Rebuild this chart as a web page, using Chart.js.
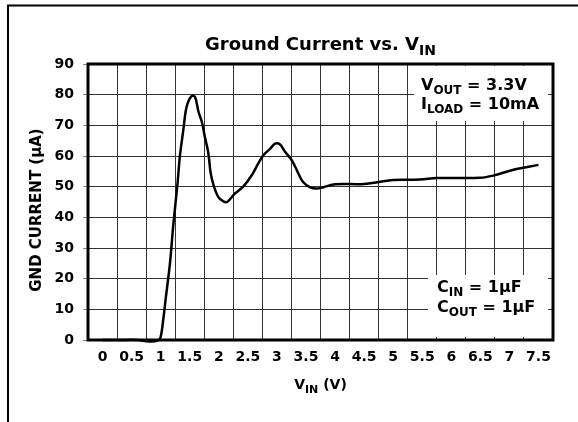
<!DOCTYPE html>
<html>
<head>
<meta charset="utf-8">
<script src="https://cdn.jsdelivr.net/npm/chart.js@4.4.1/dist/chart.umd.min.js"></script>
<style>
  html, body { margin: 0; padding: 0; background: #fff; }
  #wrap { width: 578px; height: 422px; position: relative; }
</style>
</head>
<body>
<div id="wrap"><canvas id="gndChart"></canvas></div>
<script>
// V_IN sweep (V) and ground current (uA)
const vinVolts = [0, 0.3, 0.6, 0.8, 0.95, 1.0, 1.05, 1.09, 1.16, 1.22, 1.29, 1.33, 1.39, 1.43, 1.47,
  1.53, 1.59, 1.65, 1.71, 1.76, 1.82, 1.86, 1.91, 1.99, 2.08, 2.15, 2.28, 2.42, 2.57, 2.68,
  2.77, 2.88, 2.97, 3.05, 3.14, 3.26, 3.37, 3.45, 3.57, 3.68, 3.8, 4.0, 4.5, 5.0, 5.46,
  5.75, 6.5, 6.72, 7.07, 7.5];
const gndCurrent = [0, 0, 0, -0.5, -0.2, 1, 7.5, 14, 25, 38, 51, 59.8, 68.5, 74.5, 77.5,
  79.5, 79.3, 74.5, 71, 66.3, 61, 54.5, 50.5, 46.7, 45.2, 45.1, 47.8, 50, 53.8, 57.6,
  60.3, 62.3, 64, 63.8, 61.4, 58.5, 54.3, 51.5, 49.8, 49.4, 49.8, 50.8, 50.9, 52.2, 52.3,
  52.8, 52.9, 53.6, 55.5, 57.1];
const xTickValues = [0, 0.5, 1, 1.5, 2, 2.5, 3, 3.5, 4, 4.5, 5, 5.5, 6, 6.5, 7, 7.5];
const yTickValues = [0, 10, 20, 30, 40, 50, 60, 70, 80, 90];

const FONT = '"DejaVu Sans", "Liberation Sans", sans-serif';

// draws text pieces, [text, isSubscript]
function drawRich(ctx, parts, x, y, size, align) {
  const subSize = Math.round(size * 0.75);
  let w = 0;
  parts.forEach(function (p) {
    ctx.font = 'bold ' + (p[1] ? subSize : size) + 'px ' + FONT;
    w += ctx.measureText(p[0]).width;
  });
  let cx = align === 'center' ? x - w / 2 : x;
  ctx.textAlign = 'left';
  ctx.textBaseline = 'alphabetic';
  parts.forEach(function (p) {
    ctx.font = 'bold ' + (p[1] ? subSize : size) + 'px ' + FONT;
    ctx.fillText(p[0], cx, p[1] ? y + size * 0.26 : y);
    cx += ctx.measureText(p[0]).width;
  });
}

const decor = {
  id: 'decor',
  afterDraw: function (chart) {
    const ctx = chart.ctx;
    const a = chart.chartArea;
    ctx.save();

    // outer frame (top and left only)
    ctx.strokeStyle = '#000';
    ctx.lineWidth = 2;
    ctx.beginPath();
    ctx.moveTo(8, 422);
    ctx.lineTo(8, 5.5);
    ctx.lineTo(578, 5.5);
    ctx.stroke();

    // condition boxes
    ctx.fillStyle = '#fff';
    ctx.fillRect(a.right - 139, a.top + 2, 134, 55);
    ctx.fillRect(a.right - 125, a.bottom - 65, 120, 62);

    ctx.fillStyle = '#000';
    drawRich(ctx, [['V', false], ['OUT', true], [' = 3.3V', false]], a.right - 132, a.top + 26, 16, 'left');
    drawRich(ctx, [['I', false], ['LOAD', true], [' = 10mA', false]], a.right - 132, a.top + 45, 16, 'left');
    drawRich(ctx, [['C', false], ['IN', true], [' = 1\u00b5F', false]], a.right - 116, a.bottom - 48, 16, 'left');
    drawRich(ctx, [['C', false], ['OUT', true], [' = 1\u00b5F', false]], a.right - 116, a.bottom - 28, 16, 'left');

    // title
    const cx = (a.left + a.right) / 2;
    drawRich(ctx, [['Ground Current vs. V', false], ['IN', true]], cx, 50, 18, 'center');

    // x axis title
    drawRich(ctx, [['V', false], ['IN', true], [' (V)', false]], cx, 389, 14, 'center');

    // y axis title
    ctx.save();
    ctx.translate(41, (a.top + a.bottom) / 2 + 8);
    ctx.rotate(-Math.PI / 2);
    drawRich(ctx, [['GND CURRENT (\u00b5A)', false]], 0, 0, 15, 'center');
    ctx.restore();

    // plot border
    ctx.lineWidth = 3;
    ctx.strokeStyle = '#000';
    ctx.strokeRect(a.left, a.top, a.right - a.left, a.bottom - a.top);
    ctx.restore();
  }
};

function isLabelTick(v) {
  return xTickValues.some(function (t) { return Math.abs(t - v) < 1e-6; });
}

const points = vinVolts.map(function (v, i) {
  return { x: v, y: gndCurrent[i] };
});

const chart = new Chart(document.getElementById('gndChart'), {
  type: 'line',
  data: {
    datasets: [{
      label: 'GND current',
      data: points,
      borderColor: '#000',
      borderWidth: 2.5,
      pointRadius: 0,
      tension: 0.35,
      clip: false
    }]
  },
  options: {
    responsive: true,
    maintainAspectRatio: false,
    animation: false,
    layout: { padding: { top: 64, right: 25, bottom: 0, left: 0 } },
    plugins: {
      legend: { display: false },
      tooltip: { enabled: false }
    },
    scales: {
      x: {
        type: 'linear',
        min: -0.25,
        max: 7.75,
        afterFit: function (scale) { scale.height = 82; },
        border: { display: false },
        grid: {
          drawTicks: false,
          color: function (c) {
            return c.tick && !isLabelTick(c.tick.value) ? '#333' : 'rgba(0,0,0,0)';
          }
        },
        ticks: {
          stepSize: 0.25,
          autoSkip: false,
          maxRotation: 0,
          padding: 9,
          color: '#000',
          font: { family: FONT, size: 14, weight: 'bold' },
          callback: function (v) { return isLabelTick(v) ? String(v) : ''; }
        }
      },
      y: {
        min: yTickValues[0],
        max: yTickValues[yTickValues.length - 1],
        afterFit: function (scale) { scale.width = 88; },
        border: { display: false },
        grid: { color: '#333', tickColor: '#888', tickLength: 5 },
        ticks: {
          stepSize: 10,
          padding: 9,
          color: '#000',
          font: { family: FONT, size: 14, weight: 'bold' }
        }
      }
    }
  },
  plugins: [decor]
});
</script>
</body>
</html>
